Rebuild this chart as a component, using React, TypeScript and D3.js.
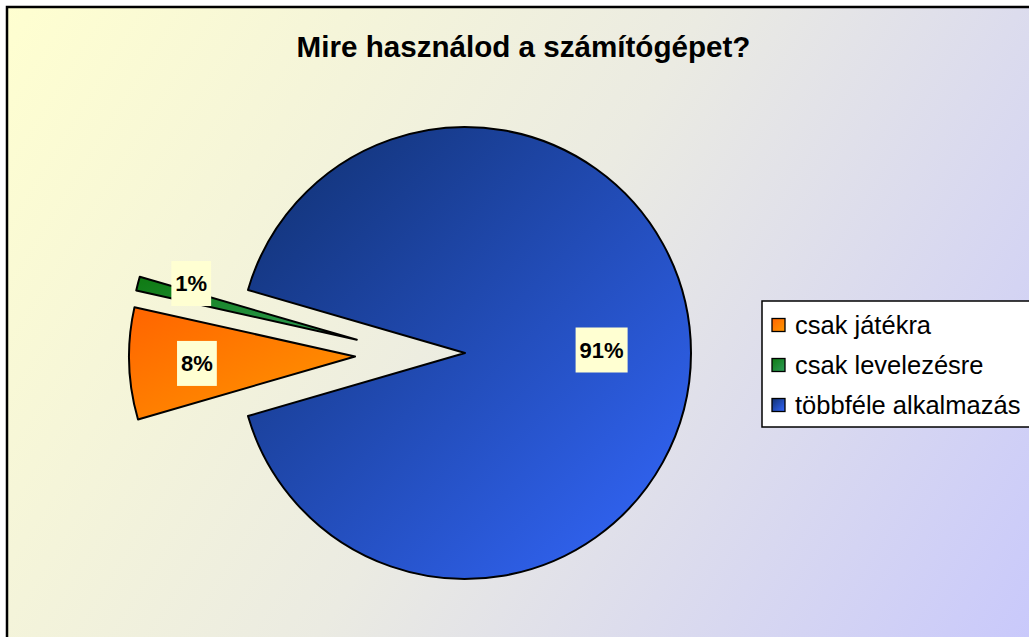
import { useMemo } from "react";
import * as d3 from "d3";

// data
const categories = ["csak játékra", "csak levelezésre", "többféle alkalmazás"];
const values = [8, 1, 91];
const title = "Mire használod a számítógépet?";

// fill gradients per slice: [start, end]
const sliceColors: [string, string][] = [
  ["#ff6400", "#ff9800"],
  ["#0f7a12", "#2f9e5a"],
  ["#10306f", "#3468ff"],
];

const WIDTH = 1029;
const HEIGHT = 637;
const CX = 465;
const CY = 353;
const RADIUS = 226;
const FONT = "'Liberation Sans', Arial, Helvetica, sans-serif";

// explosion per slice (px) and a small direction tweak (radians)
const EXPLODE = [110, 109, 0];
const EXPLODE_TWEAK = [0, -0.13, 0];
// label placement as fraction of radius, plus small nudges
const LABEL_FRAC = [0.7, 0.77, 0.6];
const LABEL_NUDGE: [number, number][] = [
  [0, 2],
  [3, -13],
  [1, -3],
];

const charW = (s: string, size: number) =>
  s.split("").reduce((acc, c) => acc + (c === "%" ? 0.889 : 0.556), 0) * size;

export default function App() {
  const total = d3.sum(values);
  const gap = (values[0] + values[1]) / total * Math.PI * 2;
  const start = (3 * Math.PI) / 2 - gap / 2;

  const arcs = useMemo(
    () =>
      d3
        .pie<number>()
        .sort(null)
        .value((d) => d)
        .startAngle(start)
        .endAngle(start + Math.PI * 2)(values),
    [start]
  );

  const arcGen = d3.arc<any>().innerRadius(0).outerRadius(RADIUS);

  const slices = arcs.map((a, i) => {
    const mid = (a.startAngle + a.endAngle) / 2;
    const dir = mid + EXPLODE_TWEAK[i];
    const ox = EXPLODE[i] * Math.sin(dir);
    const oy = -EXPLODE[i] * Math.cos(dir);
    const lr = RADIUS * LABEL_FRAC[i];
    const lx = ox + lr * Math.sin(mid) + LABEL_NUDGE[i][0];
    const ly = oy - lr * Math.cos(mid) + LABEL_NUDGE[i][1];
    const label = `${Math.round((values[i] / total) * 100)}%`;
    return { a, ox, oy, lx, ly, label, i };
  });

  const labelSize = 22;
  const legendX = 762;
  const legendY = 301;
  const legendStep = 40;

  return (
    <div style={{ position: "absolute", left: 0, top: 0 }}>
      <svg width={WIDTH} height={HEIGHT} style={{ display: "block" }}>
        <defs>
          <linearGradient id="bg" gradientUnits="userSpaceOnUse" x1={0} y1={0} x2={WIDTH} y2={HEIGHT}>
            <stop offset="0" stopColor="#ffffd0" />
            <stop offset="0.5" stopColor="#ebebe2" />
            <stop offset="1" stopColor="#c9c9fb" />
          </linearGradient>
          {sliceColors.map((c, i) => (
            <linearGradient key={i} id={`g${i}`} x1="0" y1="0" x2="1" y2="1">
              <stop offset="0" stopColor={c[0]} />
              <stop offset="1" stopColor={c[1]} />
            </linearGradient>
          ))}
        </defs>

        <rect x={7} y={7} width={WIDTH + 20} height={HEIGHT + 20} fill="url(#bg)" stroke="#000" strokeWidth={2.5} />

        <text x={523.5} y={57} textAnchor="middle" fontFamily={FONT} fontWeight="bold" fontSize={29.6} fill="#000">
          {title}
        </text>

        <g transform={`translate(${CX},${CY})`}>
          {slices.map((s) => (
            <path
              key={s.i}
              d={arcGen(s.a) || ""}
              transform={`translate(${s.ox},${s.oy})`}
              fill={`url(#g${s.i})`}
              stroke="#000"
              strokeWidth={2}
              strokeLinejoin="round"
            />
          ))}
          {slices.map((s) => {
            const w = charW(s.label, labelSize) + 8;
            const h = 45;
            return (
              <g key={`l${s.i}`} transform={`translate(${s.lx},${s.ly})`}>
                <rect x={-w / 2} y={-h / 2} width={w} height={h} fill="#ffffd2" />
                <text
                  x={0}
                  y={0}
                  dy="0.36em"
                  textAnchor="middle"
                  fontFamily={FONT}
                  fontWeight="bold"
                  fontSize={labelSize}
                  fill="#000"
                >
                  {s.label}
                </text>
              </g>
            );
          })}
        </g>

        <rect x={legendX} y={legendY} width={320} height={126} fill="#fff" stroke="#000" strokeWidth={1.5} />
        {categories.map((c, i) => {
          const cy = legendY + 24 + i * legendStep;
          return (
            <g key={c}>
              <rect x={772} y={cy - 6.5} width={13} height={13} fill={`url(#g${i})`} stroke="#000" strokeWidth={1.3} />
              <text x={795} y={cy + 8.5} fontFamily={FONT} fontSize={25.5} fill="#000">
                {c}
              </text>
            </g>
          );
        })}
      </svg>
    </div>
  );
}
